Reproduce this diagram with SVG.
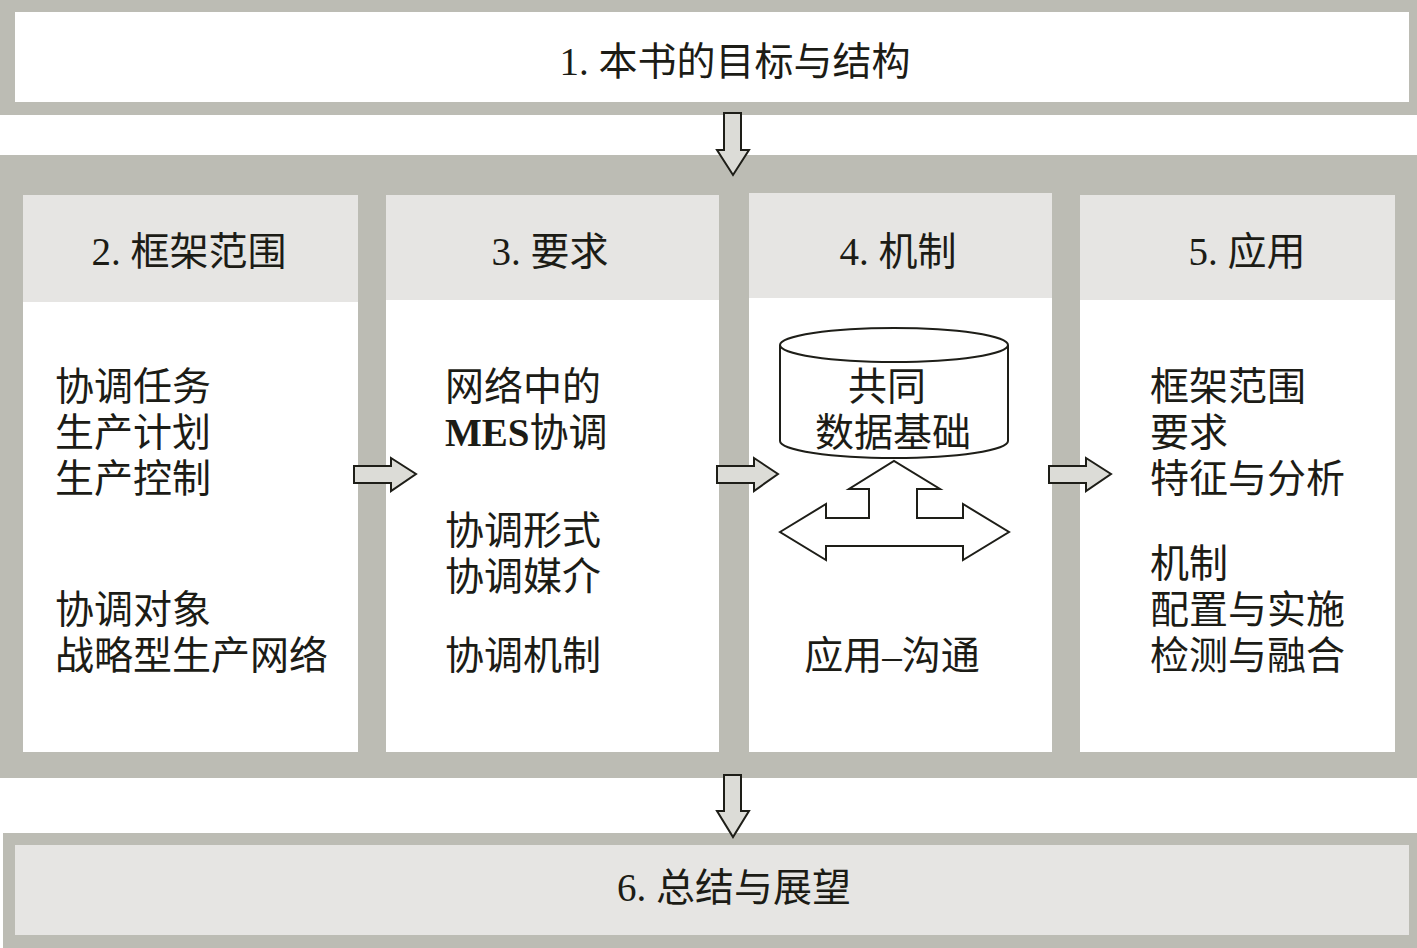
<svg xmlns="http://www.w3.org/2000/svg" width="1417" height="948" viewBox="0 0 1417 948">
<style>
.frame{fill:#bcbcb4}
.head{fill:#e6e5e3}
.body{fill:#ffffff}
.arr{fill:#dcdcd7;stroke:#1e1e18;stroke-width:2;stroke-linejoin:miter}
.out{fill:#ffffff;stroke:#1e1e18;stroke-width:2}
text{font-family:"Liberation Serif","Noto Sans CJK SC",serif;font-size:39px;fill:#1c1c16}
.c{text-anchor:middle}
.b{font-weight:bold}
</style>
<rect width="1417" height="948" fill="#ffffff"/>
<g id="node1">
<rect class="frame" x="0" y="0" width="1417" height="115"/>
<rect class="body" x="15" y="12" width="1394" height="90"/>
<text class="c" x="735" y="75">1. 本书的目标与结构</text>
</g>
<g id="panel">
<rect class="frame" x="0" y="155" width="1417" height="623"/>
</g>
<g id="node2">
<rect class="body" x="23" y="195" width="335" height="557"/>
<rect class="head" x="23" y="195" width="335" height="107"/>
<text class="c" x="189" y="265">2. 框架范围</text>
<text x="55" y="400">协调任务</text>
<text x="55" y="446">生产计划</text>
<text x="55" y="492">生产控制</text>
<text x="55" y="623">协调对象</text>
<text x="55" y="669">战略型生产网络</text>
</g>
<g id="node3">
<rect class="body" x="386" y="195" width="333" height="557"/>
<rect class="head" x="386" y="195" width="333" height="105"/>
<text class="c" x="550" y="265">3. 要求</text>
<text x="445" y="400">网络中的</text>
<text x="445" y="446"><tspan class="b">MES</tspan>协调</text>
<text x="445" y="544">协调形式</text>
<text x="445" y="590">协调媒介</text>
<text x="445" y="669">协调机制</text>
</g>
<g id="node4">
<rect class="body" x="749" y="193" width="303" height="559"/>
<rect class="head" x="749" y="193" width="303" height="105"/>
<text class="c" x="898" y="265">4. 机制</text>
<path class="out" d="M780,345 L780,441 A114,17 0 0 0 1008,441 L1008,345"/>
<ellipse class="out" cx="894" cy="345" rx="114" ry="17"/>
<text class="c" x="887" y="400">共同</text>
<text class="c" x="893" y="446">数据基础</text>
<path class="out" d="M780,532 L826,504 L826,518 L869,518 L869,489 L849,489 L894,461 L940,489 L917,489 L917,518 L963,518 L963,504 L1009,532 L963,560 L963,546 L826,546 L826,560 Z"/>
<text class="c" x="892" y="669">应用–沟通</text>
</g>
<g id="node5">
<rect class="body" x="1080" y="195" width="315" height="557"/>
<rect class="head" x="1080" y="195" width="315" height="105"/>
<text class="c" x="1247" y="265">5. 应用</text>
<text x="1150" y="400">框架范围</text>
<text x="1150" y="446">要求</text>
<text x="1150" y="492">特征与分析</text>
<text x="1150" y="577">机制</text>
<text x="1150" y="623">配置与实施</text>
<text x="1150" y="669">检测与融合</text>
</g>
<g id="node6">
<rect class="frame" x="3" y="833" width="1414" height="115"/>
<rect class="head" x="15" y="845" width="1394" height="90"/>
<text class="c" x="734" y="901">6. 总结与展望</text>
</g>
<g id="connectors">
<path class="arr" d="M724,113 L741,113 L741,150 L749,150 L733,175 L717,150 L724,150 Z"/>
<path class="arr" d="M724,775 L741,775 L741,811 L749,811 L733,837 L717,811 L724,811 Z"/>
<path class="arr" d="M354,466 L391,466 L391,458 L416,474 L391,491 L391,483 L354,483 Z"/>
<path class="arr" d="M717,466 L754,466 L754,458 L778,474 L754,491 L754,483 L717,483 Z"/>
<path class="arr" d="M1049,466 L1086,466 L1086,458 L1111,474 L1086,491 L1086,483 L1049,483 Z"/>
</g>
</svg>
